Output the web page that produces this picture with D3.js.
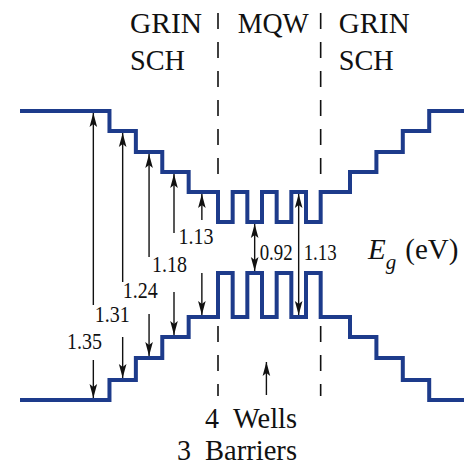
<!DOCTYPE html>
<html>
<head>
<meta charset="utf-8">
<script src="https://cdn.jsdelivr.net/npm/d3@7"></script>
<style>
  body { margin: 0; background: #fff; }
  text { font-family: "Liberation Serif", "Times New Roman", serif; fill: #111; }
</style>
</head>
<body>
<div id="chart"></div>
<script>
// layer boundaries along the growth direction (arb. units, 0 = centre of the MQW)
var layerEdges = [-170, -109, -91, -73, -55, -35, -25, -15, -5, 5, 15, 25, 35, 55, 73, 91, 109, 133];
// band edge for each layer (arb. energy units)
var ecLevels = [289, 269, 248, 228, 208, 178, 208, 178, 208, 178, 208, 178, 208, 228, 248, 269, 289];
var evLevels = [0, 20, 42, 63, 83, 127, 83, 127, 83, 127, 83, 127, 83, 63, 42, 20, 0];

// band gaps in the GRIN region
var grinGaps = ['1.35', '1.31', '1.24', '1.18', '1.13'];
var grinGapPos = [-120, -100, -82, -65, -46];
var grinBreakTop = [95, 118, 143, 167, 180];
var grinBreakBottom = [40, 63, 86, 108, 127];
var grinLabelPos = [-138, -119, -100, -80, -62];
var grinLabelLevel = [51, 78, 102, 128, 156];

// band gaps in the MQW region
var qwGaps = ['0.92', '1.13'];
var qwGapPos = [-10, 20];

var width = 464, height = 466;
var blue = '#1d3b8b';

var svg = d3.select('#chart').append('svg')
  .attr('width', width)
  .attr('height', height);

var x = d3.scaleLinear()
  .domain([layerEdges[0], layerEdges[layerEdges.length - 1]])
  .range([20, 464.4]);
var y = d3.scaleLinear().domain([0, 290]).range([400, 110]);

function levelAt(levels, pos) {
  return levels[d3.bisectRight(layerEdges, pos) - 1];
}

svg.append('defs').append('marker')
  .attr('id', 'head')
  .attr('viewBox', '-15 -5 16 10')
  .attr('refX', 0).attr('refY', 0)
  .attr('markerWidth', 16).attr('markerHeight', 10)
  .attr('markerUnits', 'userSpaceOnUse')
  .attr('orient', 'auto-start-reverse')
  .append('path')
  .attr('d', 'M0,0L-14,-3.8L-11,0L-14,3.8Z')
  .attr('fill', '#111');

// region dividers
var dividerLayer = svg.append('g').attr('class', 'dividers');
[layerEdges[5], layerEdges[12]].forEach(function(p) {
  [[387, 222], [74, 4]].forEach(function(span) {
    dividerLayer.append('line')
      .attr('x1', x(p)).attr('x2', x(p))
      .attr('y1', y(span[0])).attr('y2', y(span[1]))
      .attr('stroke', '#111')
      .attr('stroke-width', 1.6)
      .attr('stroke-dasharray', '16,13');
  });
});

// band profiles
var band = d3.line()
  .x(function(d) { return x(d[0]); })
  .y(function(d) { return y(d[1]); })
  .curve(d3.curveStepAfter);

function profile(levels) {
  var pts = levels.map(function(l, i) { return [layerEdges[i], l]; });
  pts.push([layerEdges[layerEdges.length - 1], levels[levels.length - 1]]);
  return pts;
}

var bandLayer = svg.append('g').attr('class', 'bands');
[ecLevels, evLevels].forEach(function(levels) {
  bandLayer.append('path')
    .attr('d', band(profile(levels)))
    .attr('fill', 'none')
    .attr('stroke', blue)
    .attr('stroke-width', 4)
    .attr('stroke-linejoin', 'miter');
});

// condensed text, like the figure's typeface
function label(g, str, px, py, size, w, anchor) {
  return g.append('text')
    .attr('x', px).attr('y', py)
    .attr('font-size', size)
    .attr('text-anchor', anchor || 'start')
    .attr('textLength', w)
    .attr('lengthAdjust', 'spacingAndGlyphs')
    .text(str);
}

// GRIN gap arrows
var arrowLayer = svg.append('g').attr('class', 'arrows');
grinGaps.forEach(function(str, i) {
  var px = x(grinGapPos[i]);
  var ec = levelAt(ecLevels, grinGapPos[i]);
  var ev = levelAt(evLevels, grinGapPos[i]);
  arrowLayer.append('line')
    .attr('x1', px).attr('x2', px)
    .attr('y1', y(grinBreakTop[i])).attr('y2', y(ec) + 2)
    .attr('stroke', '#111').attr('stroke-width', 1.4)
    .attr('marker-end', 'url(#head)');
  arrowLayer.append('line')
    .attr('x1', px).attr('x2', px)
    .attr('y1', y(grinBreakBottom[i])).attr('y2', y(ev) - 2)
    .attr('stroke', '#111').attr('stroke-width', 1.4)
    .attr('marker-end', 'url(#head)');
  label(arrowLayer, str, x(grinLabelPos[i]), y(grinLabelLevel[i]), 23, 35);
});

// MQW gap arrows
qwGaps.forEach(function(str, i) {
  var px = x(qwGapPos[i]);
  var ec = levelAt(ecLevels, qwGapPos[i]);
  var ev = levelAt(evLevels, qwGapPos[i]);
  arrowLayer.append('line')
    .attr('x1', px).attr('x2', px)
    .attr('y1', y(ec) + 2).attr('y2', y(ev) - 2)
    .attr('stroke', '#111').attr('stroke-width', 1.4)
    .attr('marker-start', 'url(#head)')
    .attr('marker-end', 'url(#head)');
  label(arrowLayer, str, px + 5, 260, 23, 33);
});

// region labels
var labelLayer = svg.append('g').attr('class', 'labels');
label(labelLayer, 'GRIN', x(layerEdges[5]) - 88, 33, 30, 72);
label(labelLayer, 'SCH', x(layerEdges[5]) - 88, 70, 30, 55);
label(labelLayer, 'MQW', x(0) + 4, 33, 30, 71, 'middle');
label(labelLayer, 'GRIN', x(layerEdges[12]) + 18, 33, 30, 71);
label(labelLayer, 'SCH', x(layerEdges[12]) + 18, 70, 30, 55);

// E_g (eV)
var eg = labelLayer.append('text').attr('x', 368).attr('y', 259).attr('font-size', 29);
eg.append('tspan').attr('font-style', 'italic').text('E');
eg.append('tspan').attr('font-style', 'italic').attr('font-size', 21).attr('dy', 10).text('g');
eg.append('tspan').attr('dy', -10).attr('dx', 9).text('(eV)');

// wells / barriers note
var noteX = x(-2);
arrowLayer.append('line')
  .attr('x1', noteX).attr('x2', noteX)
  .attr('y1', 395).attr('y2', 362)
  .attr('stroke', '#111').attr('stroke-width', 1.4)
  .attr('marker-end', 'url(#head)');
label(labelLayer, '4', 205, 428, 30, 14);
label(labelLayer, 'Wells', 297, 428, 30, 64, 'end');
label(labelLayer, '3', 177, 460, 30, 14);
label(labelLayer, 'Barriers', 297, 460, 30, 92, 'end');
</script>
</body>
</html>
